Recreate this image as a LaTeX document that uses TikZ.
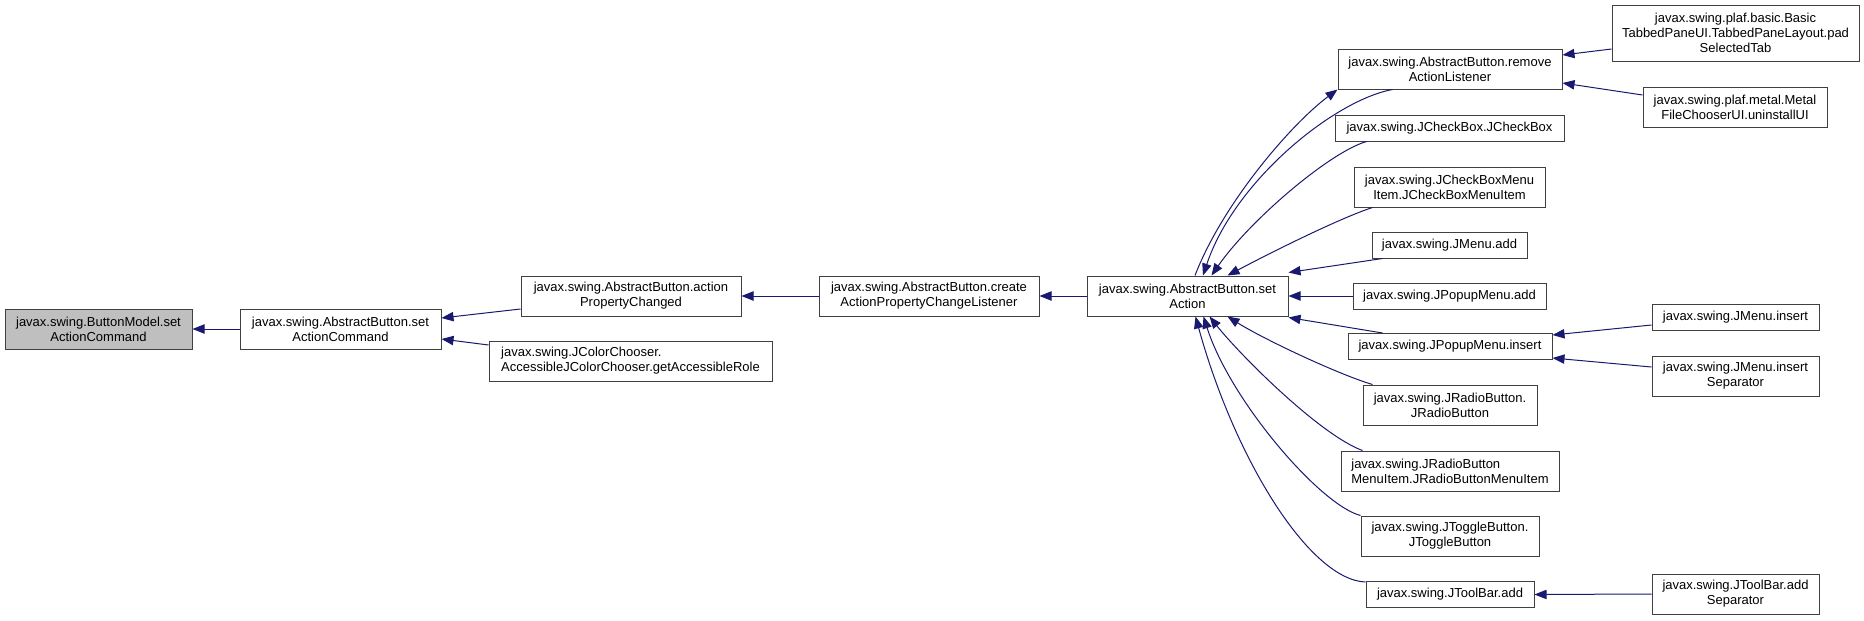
\documentclass[tikz,border=0pt]{standalone}
\usepackage{fontspec}
\setmainfont{Liberation Sans}
\usetikzlibrary{arrows.meta,calc}
\definecolor{dxblue}{HTML}{191970}
\definecolor{dxgray}{HTML}{BFBFBF}
\definecolor{dxline}{HTML}{404040}

\begin{document}
\begin{tikzpicture}[x=0.75pt,y=-0.75pt,
      box/.style={draw=dxline,line width=0.75pt,fill=white,inner sep=0pt,align=center,
        minimum height=30pt,font=\fontsize{9.75}{11.25}\selectfont},
      lbox/.style={box,align=left},
      arr/.style={-{Triangle[length=9pt,width=7pt]},line width=0.75pt,draw=dxblue}]
    \useasboundingbox (0,0) rectangle (1864,621);
    % left part of the graph
    \node[box,fill=dxgray,minimum width=140.25pt] (bmset) at (98.5,329) {javax.swing.ButtonModel.set\\ActionCommand};
    \node[box,minimum width=150.75pt] (abscmd) at (340.5,329) {javax.swing.AbstractButton.set\\ActionCommand};
    \node[box,minimum width=165pt] (actprop) at (631,296) {javax.swing.AbstractButton.action\\PropertyChanged};
    \node[lbox,minimum width=212.25pt] (colorch) at (630.5,361) {javax.swing.JColorChooser.\\AccessibleJColorChooser.getAccessibleRole};
    \node[box,minimum width=165pt] (createl) at (929,296) {javax.swing.AbstractButton.create\\ActionPropertyChangeListener};
    \node[box,minimum width=150.75pt] (seta) at (1187.5,296) {javax.swing.AbstractButton.set\\Action};
    % callers of setAction
    \node[box,minimum width=168pt] (removeal) at (1450,69) {javax.swing.AbstractButton.remove\\ActionListener};
    \node[box,minimum width=171.75pt,minimum height=19.5pt] (jcheck) at (1449.5,128) {javax.swing.JCheckBox.JCheckBox};
    \node[box,minimum width=143.25pt] (jcheckmi) at (1449.5,187) {javax.swing.JCheckBoxMenu\\Item.JCheckBoxMenuItem};
    \node[box,minimum width=116.25pt,minimum height=19.5pt] (jmenuadd) at (1449.5,245) {javax.swing.JMenu.add};
    \node[box,minimum width=144.75pt,minimum height=19.5pt] (jpopadd) at (1449.5,296) {javax.swing.JPopupMenu.add};
    \node[box,minimum width=153pt,minimum height=19.5pt] (jpopins) at (1450,346.5) {javax.swing.JPopupMenu.insert};
    \node[box,minimum width=130.5pt] (jradio) at (1450,405) {javax.swing.JRadioButton.\\JRadioButton};
    \node[lbox,minimum width=163.5pt] (jradiomi) at (1450,471) {javax.swing.JRadioButton\\MenuItem.JRadioButtonMenuItem};
    \node[box,minimum width=133.5pt] (jtoggle) at (1450,536) {javax.swing.JToggleButton.\\JToggleButton};
    \node[box,minimum width=126pt,minimum height=19.5pt] (jtbadd) at (1450,594.5) {javax.swing.JToolBar.add};
    % right column
    \node[box,minimum width=185.25pt,minimum height=42pt] (tabbed) at (1735.5,33) {javax.swing.plaf.basic.Basic\\TabbedPaneUI.TabbedPaneLayout.pad\\SelectedTab};
    \node[box,minimum width=138pt] (metal) at (1735,107) {javax.swing.plaf.metal.Metal\\FileChooserUI.uninstallUI};
    \node[box,minimum width=125.25pt,minimum height=19.5pt] (jmenuins) at (1735.5,317) {javax.swing.JMenu.insert};
    \node[box,minimum width=125.25pt] (jmenusep) at (1735.5,376) {javax.swing.JMenu.insert\\Separator};
    \node[box,minimum width=125.25pt] (jtbsep) at (1735.5,594) {javax.swing.JToolBar.add\\Separator};

    % connectors
    \draw[arr] (abscmd.west) -- (bmset.east);
    \draw[arr] ($(actprop.west)+(0,13)$) -- ($(abscmd.east)+(0,-11)$);
    \draw[arr] ($(colorch.west)+(0,-16)$) -- ($(abscmd.east)+(0,10)$);
    \draw[arr] (createl.west) -- (actprop.east);
    \draw[arr] (seta.west) -- (createl.east);
    \draw[arr] ($(seta.north)+(7.5,0)$) .. controls (1222,205) and (1290,125) .. (removeal.south west);
    \draw[arr] ($(removeal.south west)+(55,0)$) .. controls (1335,100) and (1235,180) .. ($(seta.north)+(15.5,0)$);
    \draw[arr] ($(jcheck.south west)+(32,0)$) .. controls (1330,152) and (1250,220) .. ($(seta.north)+(24,0)$);
    \draw[arr] ($(jcheckmi.south west)+(19,0)$) .. controls (1340,218) and (1270,253) .. ($(seta.north)+(40,0)$);
    \draw[arr] ($(jmenuadd.south west)+(11,0)$) -- ($(seta.north east)+(0,-3)$);
    \draw[arr] (jpopadd.west) -- (seta.east);
    \draw[arr] ($(jpopins.north west)+(35,0)$) -- ($(seta.south east)+(0,1)$);
    \draw[arr] ($(jradio.north west)+(10,0)$) .. controls (1340,375) and (1265,340) .. ($(seta.south)+(40,0)$);
    \draw[arr] ($(jradiomi.north west)+(22,0)$) .. controls (1320,435) and (1240,355) .. ($(seta.south)+(22,0)$);
    \draw[arr] (jtoggle.north west) .. controls (1320,505) and (1230,400) .. ($(seta.south)+(16,0)$);
    \draw[arr] ($(jtbadd.north west)+(0,1)$) .. controls (1310,580) and (1235,460) .. ($(seta.south)+(8,0)$);
    \draw[arr] ($(tabbed.west)+(0,16)$) -- ($(removeal.east)+(0,-14)$);
    \draw[arr] ($(metal.west)+(0,-12)$) -- ($(removeal.east)+(0,14)$);
    \draw[arr] ($(jmenuins.west)+(0,8)$) -- ($(jpopins.east)+(0,-11.5)$);
    \draw[arr] ($(jmenusep.west)+(0,-9)$) -- ($(jpopins.east)+(0,11.5)$);
    \draw[arr] (jtbsep.west) -- (jtbadd.east);
  \end{tikzpicture}
\end{document}
